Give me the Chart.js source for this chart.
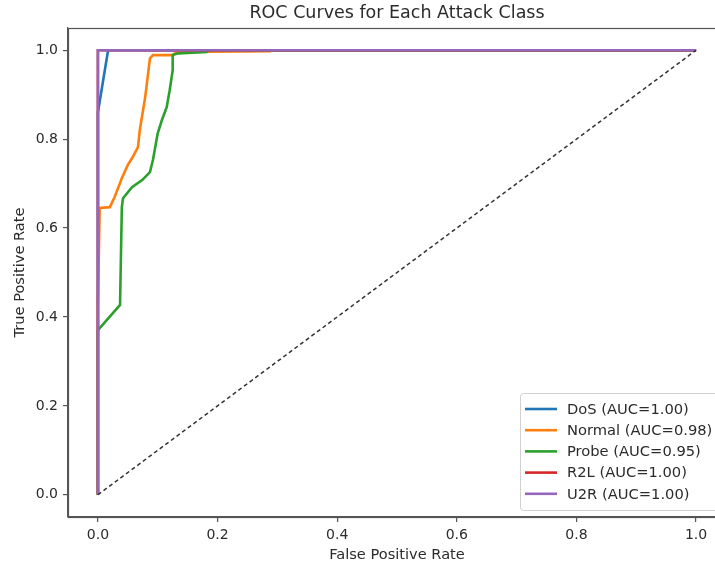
<!DOCTYPE html>
<html>
<head>
<meta charset="utf-8">
<script src="https://cdn.jsdelivr.net/npm/chart.js@4"></script>
<style>
  html, body { margin: 0; padding: 0; background: #fff; overflow: hidden; }
  canvas { display: block; }
</style>
</head>
<body>
<canvas id="rocChart" width="730" height="567"></canvas>
<script>
const classNames = ['DoS', 'Normal', 'Probe', 'R2L', 'U2R'];
const aucValues = ['1.00', '0.98', '0.95', '1.00', '1.00'];
const lineColors = ['#1f77b4', '#ff7f0e', '#2ca02c', '#d62728', '#9467bd'];

const dosFpr = [0, 0, 0.017, 1];
const dosTpr = [0, 0.86, 1, 1];
const normalFpr = [0, 0, 0.003, 0.02, 0.028, 0.04, 0.05, 0.057, 0.067, 0.07, 0.079, 0.087, 0.092, 0.125, 0.132, 0.288, 0.29, 1];
const normalTpr = [0, 0.43, 0.645, 0.647, 0.67, 0.712, 0.742, 0.757, 0.782, 0.82, 0.894, 0.982, 0.989, 0.989, 0.996, 0.998, 1, 1];
const probeFpr = [0, 0, 0.003, 0.037, 0.04, 0.042, 0.057, 0.074, 0.087, 0.092, 0.1, 0.107, 0.115, 0.12, 0.125, 0.125, 0.134, 0.182, 0.185, 1];
const probeTpr = [0, 0.37, 0.375, 0.427, 0.647, 0.667, 0.692, 0.708, 0.726, 0.753, 0.813, 0.843, 0.872, 0.91, 0.955, 0.989, 0.993, 0.996, 1, 1];
const r2lFpr = [0, 0, 1];
const r2lTpr = [0, 1, 1];
const u2rFpr = [0, 0, 1];
const u2rTpr = [0, 1, 1];
const chanceFpr = [0, 1];
const chanceTpr = [0, 1];

const xTicks = [0, 0.2, 0.4, 0.6, 0.8, 1.0];
const yTicks = [0, 0.2, 0.4, 0.6, 0.8, 1.0];

const textColor = '#2b2b2b';
const fontFamily = '"DejaVu Sans", sans-serif';

function toPoints(xs, ys) {
    return xs.map((x, i) => ({ x: x, y: ys[i] }));
}

const curves = [
    toPoints(dosFpr, dosTpr),
    toPoints(normalFpr, normalTpr),
    toPoints(probeFpr, probeTpr),
    toPoints(r2lFpr, r2lTpr),
    toPoints(u2rFpr, u2rTpr)
];

const datasets = curves.map((pts, i) => ({
    label: classNames[i] + ' (AUC=' + aucValues[i] + ')',
    data: pts,
    borderColor: lineColors[i],
    borderWidth: 2.6,
    pointRadius: 0,
    tension: 0,
    order: 5 - i
}));
datasets.push({
    label: 'chance',
    data: toPoints(chanceFpr, chanceTpr),
    borderColor: '#333333',
    borderWidth: 1.5,
    borderDash: [4, 3],
    pointRadius: 0,
    order: 0
});

// frame, title and in-plot legend like matplotlib
const mplDecor = {
    id: 'mplDecor',
    afterDraw(chart) {
        const c = chart.ctx;
        const a = chart.chartArea;
        c.save();
        c.strokeStyle = '#555';
        c.lineWidth = 1.2;
        c.strokeRect(a.left + 0.5, a.top + 0.5, a.right - a.left, a.bottom - a.top);

        c.fillStyle = textColor;
        c.font = '17.5px ' + fontFamily;
        c.textAlign = 'center';
        c.textBaseline = 'middle';
        c.fillText('ROC Curves for Each Attack Class', (a.left + a.right) / 2, 13);

        // legend
        const lx = 520, ly = 393, lw = 201, lh = 117;
        c.beginPath();
        c.roundRect(lx + 0.5, ly + 0.5, lw, lh, 3);
        c.fillStyle = 'rgba(255,255,255,0.85)';
        c.fill();
        c.strokeStyle = '#d0d0d0';
        c.lineWidth = 1;
        c.stroke();
        c.font = '14.7px ' + fontFamily;
        c.textAlign = 'left';
        classNames.forEach((name, i) => {
            const y = 409 + i * 21.2;
            c.strokeStyle = lineColors[i];
            c.lineWidth = 2.6;
            c.beginPath();
            c.moveTo(525, y);
            c.lineTo(557, y);
            c.stroke();
            c.fillStyle = textColor;
            c.fillText(datasets[i].label, 567, y + 1);
        });
        c.restore();
    }
};

const ctx = document.getElementById('rocChart').getContext('2d');
const rocChart = new Chart(ctx, {
    type: 'line',
    data: { datasets: datasets },
    options: {
        responsive: false,
        animation: false,
        layout: { padding: { left: 0, right: 4, top: 28, bottom: 0 } },
        scales: {
            x: {
                type: 'linear',
                min: -0.05,
                max: 1.05,
                afterBuildTicks: (scale) => { scale.ticks = xTicks.map(v => ({ value: v })); },
                afterFit: (scale) => { scale.height = 50; },
                ticks: {
                    color: textColor,
                    font: { family: fontFamily, size: 14 },
                    padding: 5,
                    maxRotation: 0,
                    callback: (v) => v.toFixed(1)
                },
                grid: { drawOnChartArea: false, drawTicks: true, tickLength: 5, color: '#555', lineWidth: 1.2 },
                border: { display: true, color: '#555', width: 1.2 },
                title: {
                    display: true,
                    text: 'False Positive Rate',
                    color: textColor,
                    font: { family: fontFamily, size: 14.6 },
                    padding: { top: 0, bottom: 3 }
                }
            },
            y: {
                type: 'linear',
                min: -0.05,
                max: 1.05,
                afterBuildTicks: (scale) => { scale.ticks = yTicks.map(v => ({ value: v })); },
                afterFit: (scale) => { scale.width = 68; },
                ticks: {
                    color: textColor,
                    font: { family: fontFamily, size: 14 },
                    padding: 5,
                    callback: (v) => v.toFixed(1)
                },
                grid: { drawOnChartArea: false, drawTicks: true, tickLength: 5, color: '#555', lineWidth: 1.2 },
                border: { display: true, color: '#555', width: 1.2 },
                title: {
                    display: true,
                    text: 'True Positive Rate',
                    color: textColor,
                    font: { family: fontFamily, size: 14.6 },
                    padding: { top: 11, bottom: 0 }
                }
            }
        },
        plugins: {
            legend: { display: false },
            tooltip: { enabled: false }
        }
    },
    plugins: [mplDecor]
});
</script>
</body>
</html>
